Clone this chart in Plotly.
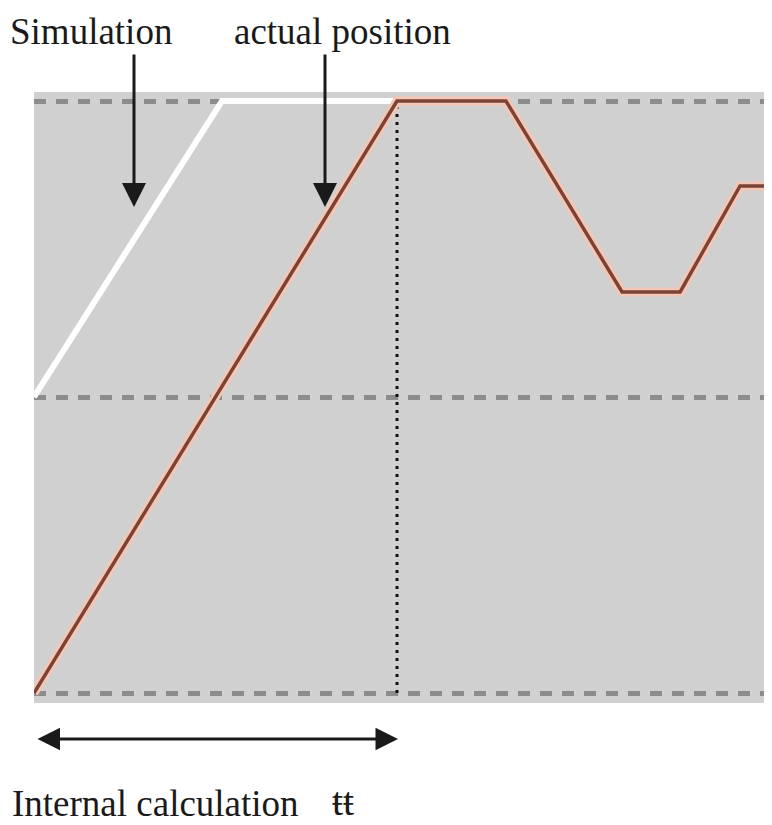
import plotly.graph_objects as go

W, H = 772, 825
OFF = 8  # page body offset of the rendered figure

# ---- data (time units, position units) ----
actual_t = [0, 10, 13, 16.2, 17.8, 19.45, 20.4]
actual_pos = [0, 2, 2, 1.355, 1.355, 1.713, 1.713]
sim_t = [0, 5.18, 10]
sim_pos = [1.0, 2, 2]
level_ticks = [0, 1, 2]
marker_t = 10

# ---- layout helpers (pixel -> paper) ----
def px(x):
    return (x - OFF) / W

def py(y):
    return 1 - (y - OFF) / H

fig = go.Figure()

fig.add_trace(go.Scatter(x=sim_t, y=sim_pos, mode="lines",
                         line=dict(color="#ffffff", width=6), hoverinfo="skip"))
fig.add_trace(go.Scatter(x=[marker_t, marker_t], y=[level_ticks[0], level_ticks[-1]], mode="lines",
                         line=dict(color="#111111", width=3, dash="3px,5px"), hoverinfo="skip"))
fig.add_trace(go.Scatter(x=actual_t, y=actual_pos, mode="lines",
                         line=dict(color="#f6c6b4", width=9), hoverinfo="skip"))
fig.add_trace(go.Scatter(x=actual_t, y=actual_pos, mode="lines",
                         line=dict(color="#7a4335", width=3.5), hoverinfo="skip"))

serif = "Liberation Serif, Times New Roman, serif"
annotations = [
    dict(x=px(8), y=py(54), xref="paper", yref="paper", text="Simulation",
         showarrow=False, xanchor="left", yanchor="bottom",
         font=dict(family=serif, size=37, color="#1a1a1a")),
    dict(x=px(232), y=py(54), xref="paper", yref="paper", text="actual position",
         showarrow=False, xanchor="left", yanchor="bottom",
         font=dict(family=serif, size=37, color="#1a1a1a")),
    dict(x=px(10), y=py(826), xref="paper", yref="paper", text="Internal calculation",
         showarrow=False, xanchor="left", yanchor="bottom",
         font=dict(family=serif, size=37, color="#1a1a1a")),
    dict(x=px(330), y=py(826), xref="paper", yref="paper", text="ŧŧ",
         showarrow=False, xanchor="left", yanchor="bottom",
         font=dict(family=serif, size=40, color="#1a1a1a")),
    # vertical arrows
    dict(x=px(134), y=py(207), xref="paper", yref="paper", text="",
         showarrow=True, arrowhead=2, arrowsize=1.6, arrowwidth=3, arrowcolor="#1a1a1a",
         ax=0, ay=-154),
    dict(x=px(325), y=py(207), xref="paper", yref="paper", text="",
         showarrow=True, arrowhead=2, arrowsize=1.6, arrowwidth=3, arrowcolor="#1a1a1a",
         ax=0, ay=-154),
    # horizontal double arrow
    dict(x=px(398), y=py(739), xref="paper", yref="paper", text="",
         showarrow=True, arrowhead=2, startarrowhead=2, arrowside="end+start",
         arrowsize=1.5, startarrowsize=1.5, arrowwidth=3, arrowcolor="#1a1a1a",
         ax=-362, ay=0),
]

fig.update_layout(
    width=W, height=H,
    margin=dict(l=0, r=0, t=0, b=0),
    paper_bgcolor="#ffffff",
    plot_bgcolor="#d0d0d0",
    showlegend=False,
    annotations=annotations,
    xaxis=dict(domain=[px(34), 1], range=[0, (W + OFF - 34) / 36.3],
               showgrid=False, zeroline=False, showticklabels=False, ticks=""),
    yaxis=dict(domain=[py(703), py(92)], range=[-(703 - 693) / 296, 2 + (101 - 92) / 296],
               tickvals=level_ticks, showticklabels=False, ticks="",
               showgrid=True, gridcolor="#8c8c8c", gridwidth=5, griddash="12px,10px",
               zeroline=False),
)

fig.write_html("out.html")
